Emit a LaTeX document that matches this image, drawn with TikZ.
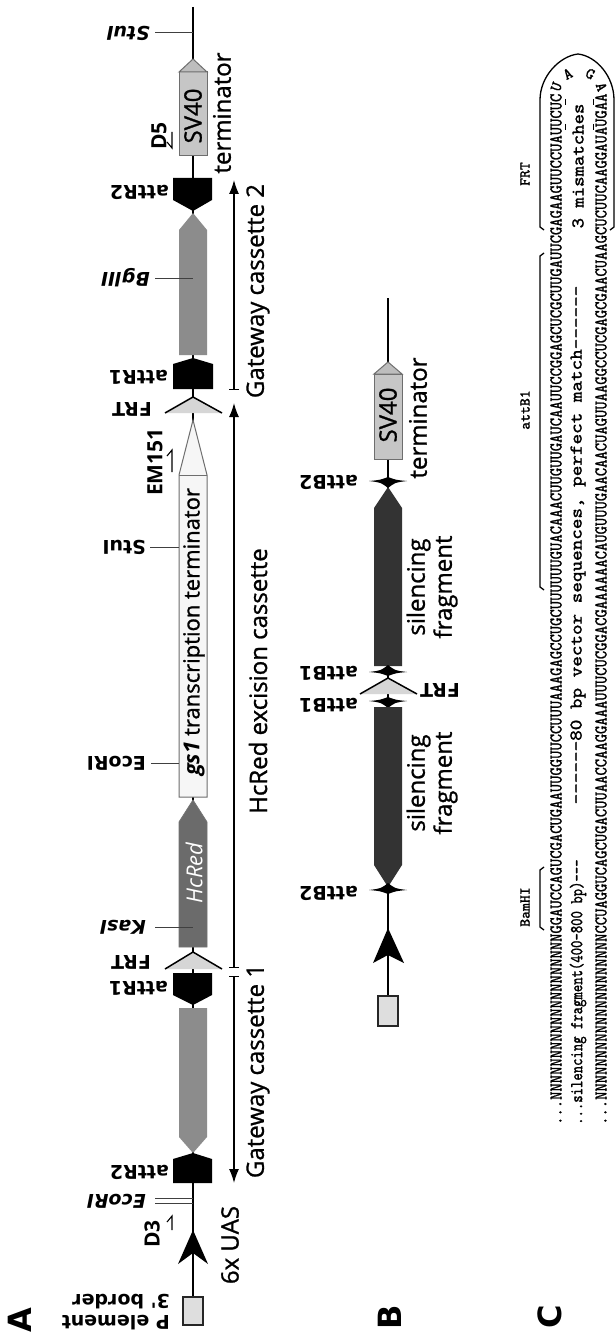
\documentclass[tikz,border=0pt]{standalone}
\usepackage{fontspec}
\usepackage{graphicx}
\newfontfamily\labf{DejaVu Sans}
\newfontfamily\annf{Open Sans}
\newfontfamily\annsb{Open Sans}[FakeBold=1.1]
\newfontfamily\seqf{lmmono10-regular.otf}[FakeBold=1.4]
\usetikzlibrary{arrows.meta}
\definecolor{svfill}{HTML}{C6C6C6}
\definecolor{svtri}{HTML}{BDBDBD}
\definecolor{outl}{HTML}{6E6E6E}
\definecolor{cassg}{HTML}{8C8C8C}
\definecolor{hcred}{HTML}{6B6B6B}
\definecolor{frtfill}{HTML}{D6D6D6}
\definecolor{whitebox}{HTML}{F6F6F6}
\definecolor{darkfrag}{HTML}{333333}
\definecolor{pbox}{HTML}{DEDEDE}
\newcommand\sqz[1]{\scalebox{0.88}[1]{#1}}
\tikzset{
  dna/.style={line width=1.4pt, black},
  tickln/.style={line width=1pt, black!75},
  lbl/.style={font=\labf\bfseries\fontsize{19}{21}\selectfont, inner sep=0pt, rotate=180, anchor=west},
  ilbl/.style={lbl, font=\labf\bfseries\itshape\fontsize{19}{21}\selectfont},
  ann/.style={font=\annsb\fontsize{24}{27}\selectfont, inner sep=0pt, rotate=90},
  prim/.style={font=\annf\bfseries\fontsize{21}{24}\selectfont, inner sep=0pt, rotate=90},
  plab/.style={font=\labf\bfseries\fontsize{32}{36}\selectfont, inner sep=0pt, rotate=90},
  seq/.style={font=\seqf\fontsize{18}{19}\selectfont, inner sep=0pt, rotate=90, anchor=west},
  seqb/.style={font=\seqf\fontsize{18}{19}\selectfont, inner sep=0pt, rotate=90},
  seqlab/.style={font=\seqf\fontsize{15}{16}\selectfont, inner sep=0pt, rotate=90},
  loopch/.style={font=\seqf\fontsize{16}{17}\selectfont, inner sep=0pt},
  annarrow/.style={line width=1.3pt, {Bar[width=10pt]}-{Latex[length=14pt,width=10pt]}},
  frtarm/.style={line width=1.5pt, black},
  primer/.style={line width=1.1pt, black},
}
\newcommand\attBdn[2]{\fill[black] (#1-19,#2) .. controls (#1-8,#2-1) .. (#1,#2-4) .. controls (#1+8,#2-1) .. (#1+19,#2) .. controls (#1+7,#2+1.5) .. (#1,#2+7) .. controls (#1-7,#2+1.5) .. (#1-19,#2) -- cycle;}
\newcommand\attBup[2]{\fill[black] (#1-19,#2) .. controls (#1-8,#2+1) .. (#1,#2+4) .. controls (#1+8,#2+1) .. (#1+19,#2) .. controls (#1+7,#2-1.5) .. (#1,#2-7) .. controls (#1-7,#2-1.5) .. (#1-19,#2) -- cycle;}
\begin{document}
\begin{tikzpicture}[x=1pt,y=-1pt]
\useasboundingbox (0,0) rectangle (615,1340);
\fill[white] (0,0) rectangle (615,1340);

% ================= PANEL A =================
\coordinate (aTop) at (193,7);
\coordinate (aBot) at (193,1297);
\draw[dna] (aTop) -- (aBot);

% SV40 terminator (pointing up)
\filldraw[fill=svfill, draw=outl, line width=1pt] (179,72) rectangle (207,156);
\filldraw[fill=svtri, draw=outl, line width=1pt] (179,72) -- (193,59) -- (207,72) -- cycle;
\node[ann] (sv40a) at (193,116) {SV40};
\node[ann] (terma) at (222,113) {terminator};

% attR2 top
\fill[black] (173,178) -- (212,178) -- (212,200) -- (193,211) -- (173,200) -- cycle;
% Gateway cassette 2 gene (gray, pointing up)
\fill[cassg] (179,355) -- (179,230) -- (193,213) -- (207,230) -- (207,355) -- cycle;
% attR1 upper
\fill[black] (173,389) -- (173,364) -- (193,358) -- (213,364) -- (213,389) -- cycle;
% FRT upper
\fill[frtfill] (193,397) -- (222,413) -- (165,413) -- cycle;
\draw[frtarm] (165,413) -- (193,397) -- (222,413);
% gs1 transcription terminator (white arrow)
\filldraw[fill=whitebox, draw=outl, line width=1pt] (179,797) -- (179,475) -- (193,420) -- (207,475) -- (207,797) -- cycle;
\draw[outl, line width=1pt] (179,475) -- (207,475);
\node[font=\annsb\fontsize{22}{24}\selectfont, inner sep=0pt, rotate=90] (gs1) at (194,632) {{\annf\bfseries\itshape gs1} transcription terminator};
% HcRed
\filldraw[fill=hcred, draw=black!55, line width=0.8pt] (179,947) -- (179,822) -- (193,800) -- (207,822) -- (207,947) -- cycle;
\node[font=\annf\itshape\fontsize{22}{24}\selectfont, inner sep=0pt, rotate=90, text=white] (hcred) at (194,873) {HcRed};
% FRT lower
\fill[frtfill] (193,952) -- (222,969) -- (165,969) -- cycle;
\draw[frtarm] (165,969) -- (193,952) -- (222,969);
% attR1 lower (pointing down)
\fill[black] (173,973) -- (212,973) -- (212,995) -- (193,1005) -- (173,995) -- cycle;
% Gateway cassette 1 gene (gray, pointing down)
\fill[cassg] (179,1008) -- (207,1008) -- (207,1137) -- (193,1153) -- (179,1137) -- cycle;
% attR2 lower (pointing up)
\fill[black] (173,1183) -- (173,1159) -- (193,1153) -- (212,1159) -- (212,1183) -- cycle;
% 6x UAS arrowhead
\fill[black] (193,1230) -- (208,1264) -- (193,1253) -- (178,1264) -- cycle;
% P element box
\filldraw[fill=pbox, draw=black!85, line width=1.6pt] (183,1297) rectangle (203,1325);

% restriction sites / labels
\node[ilbl] (stuA) at (150,33) {StuI};
\draw[tickln] (stuA.west) ++(5,0) -- (193,33);
\node[lbl] (attR2a) at (169,192) {attR2};
\node[ilbl] (bgl) at (150,278) {BglII};
\draw[tickln] (bgl.west) ++(5,0) -- (193,278);
\node[lbl] (attR1a) at (168,377) {attR1};
\node[lbl] (frta) at (152,409) {FRT};
\node[lbl] (stuB) at (146,547) {StuI};
\draw[tickln] (stuB.west) ++(4,0) -- (179,547);
\node[lbl] (ecoA) at (146,763) {EcoRI};
\draw[tickln] (ecoA.west) ++(5,0) -- (179,763);
\node[ilbl] (kas) at (146,927) {KasI};
\draw[tickln] (kas.west) ++(9,0) -- (193,927);
\node[lbl] (frtb) at (151,962) {FRT};
\node[lbl] (attR1b) at (168,988) {attR1};
\node[lbl] (attR2b) at (169,1172) {attR2};
\node[ilbl] (ecoB) at (146,1201) {EcoRI};
\draw[tickln] (155,1198) -- (193,1198);
\draw[tickln] (155,1203.5) -- (193,1203.5);
\node[lbl, align=left] (pel) at (170,1312) {P element\\3' border};

% primers
\node[prim] (d5) at (159,136) {D5};
\draw[primer] (172,132) -- (172,148) -- (167,142);
\node[prim] (em) at (155,462) {EM151};
\draw[primer] (172,472) -- (172,450) -- (167,456);
\node[prim] (d3) at (152,1234) {D3};
\draw[primer] (172,1230) -- (172,1216) -- (167,1222);

% cassette arrows
\coordinate (gc2s) at (234,390); \coordinate (gc2e) at (234,180);
\draw[annarrow] (gc2s) -- (gc2e);
\coordinate (exs) at (234,968); \coordinate (exe) at (234,403);
\draw[annarrow] (exs) -- (exe);
\coordinate (gc1s) at (234,976); \coordinate (gc1e) at (234,1183);
\draw[annarrow] (gc1s) -- (gc1e);
\node[ann] (gc2t) at (258,291) {Gateway cassette 2};
\node[ann] (ext) at (258,681) {HcRed excision cassette};
\node[ann] (gc1t) at (258,1071) {Gateway cassette 1};
\node[ann] (uas) at (230,1245) {6x UAS};

\node[plab] (pA) at (20,1320) {A};

% ================= PANEL B =================
\coordinate (bTop) at (388,298);
\coordinate (bBot) at (388,996);
\draw[dna] (bTop) -- (bBot);
\filldraw[fill=svfill, draw=outl, line width=1pt] (374,374) rectangle (402,459);
\filldraw[fill=svtri, draw=outl, line width=1pt] (374,374) -- (388,362) -- (402,374) -- cycle;
\node[ann] (sv40b) at (388,415) {SV40};
\node[ann] (termb) at (418,418) {terminator};
\attBdn{388}{481}
\fill[darkfrag] (374,666) -- (374,508) -- (388,487) -- (402,508) -- (402,666) -- cycle;
\attBup{388}{672}
\fill[frtfill] (388,678) -- (417,694) -- (360,694) -- cycle;
\draw[frtarm] (360,694) -- (388,678) -- (417,694);
\attBdn{388}{701}
\fill[darkfrag] (374,707) -- (402,707) -- (402,865) -- (388,887) -- (374,865) -- cycle;
\attBup{388}{890}
\fill[black] (388,928) -- (404,963) -- (388,955) -- (373,963) -- cycle;
\filldraw[fill=pbox, draw=black!85, line width=1.6pt] (378,996) rectangle (398,1026);
\node[ann, align=center] (sf1) at (432,587) {silencing\\fragment};
\node[ann, align=center] (sf2) at (432,783) {silencing\\fragment};
\node[lbl] (attB2a) at (358,482) {attB2};
\node[lbl] (attB1a) at (358,673) {attB1};
\node[lbl] (attB1b) at (358,705) {attB1};
\node[lbl, anchor=center] (frtB) at (440,690) {FRT};
\node[lbl] (attB2b) at (358,893) {attB2};
\node[plab] (pB) at (390,1317) {B};

% ================= PANEL C =================
\node[seq] (s1) at (556,1125) {\sqz{...NNNNNNNNNNNNNNNNNNNNGGAUCCAGUCGACUGAAUUGGUUCCUUUAAAGAGCCUGCUUUUUUGUACAAACUUGUUGAUCAAUUCCGGAGCUCGCUUGAUUCGAGAAGUUCCUAUUCUC}};
\node[seq] (s3) at (601,1125) {\sqz{...NNNNNNNNNNNNNNNNNNNNCCUAGGUCAGCUGACUUAACCAAGGAAAUUUCUCGGACGAAAAAACAUGUUUGAACAACUAGUUAAGGCCUCGAGCGAACUAAGCUCUUCAAGGAUAUGAA}};
\node[seqb, anchor=west] (s2a) at (578,1125) {\scalebox{0.78}[1]{...silencing fragment(400-800 bp)---}};
\node[seqb] (s2b) at (578,545) {\scalebox{1.12}[1]{------80 bp vector sequences, perfect match------}};
\node[seqb] (s2c) at (578,166) {\scalebox{1.1}[1]{3 mismatches}};
% loop
\node[loopch, rotate=70] (l1) at ({579+24*cos(160)},{95-24*sin(160)}) {U};
\node[loopch, rotate=28] (l2) at ({579+24*cos(118)},{95-24*sin(118)}) {A};
\node[loopch, rotate=-28] (l3) at ({579+24*cos(62)},{95-24*sin(62)}) {G};
\node[loopch, rotate=-70] (l4) at ({579+24*cos(20)},{95-24*sin(20)}) {A};
% mismatch marks
\draw[line width=0.9pt] (565,99) -- (565,105);
\draw[line width=0.9pt] (565,124) -- (565,130);
\draw[line width=0.9pt] (593,99) -- (593,105);
\draw[line width=0.9pt] (593,124) -- (593,130);
% brackets
\draw[line width=1.3pt] (544,930) -- (540,927) -- (540,870) -- (544,867);
\node[seqlab] (bam) at (525,907) {BamHI};
\draw[line width=1.3pt] (544,590) -- (540,587) -- (540,256) -- (544,253);
\node[seqlab] (attb1c) at (525,410) {attB1};
\draw[line width=1.3pt] (544,230) -- (540,227) -- (540,100) .. controls (540,76) and (560,56) .. (578,54) .. controls (596,56) and (614,76) .. (614,100) -- (614,227) -- (610,230);
\node[seqlab] (frtc) at (525,174) {FRT};
\node[plab] (pC) at (550,1317) {C};
\end{tikzpicture}
\end{document}
